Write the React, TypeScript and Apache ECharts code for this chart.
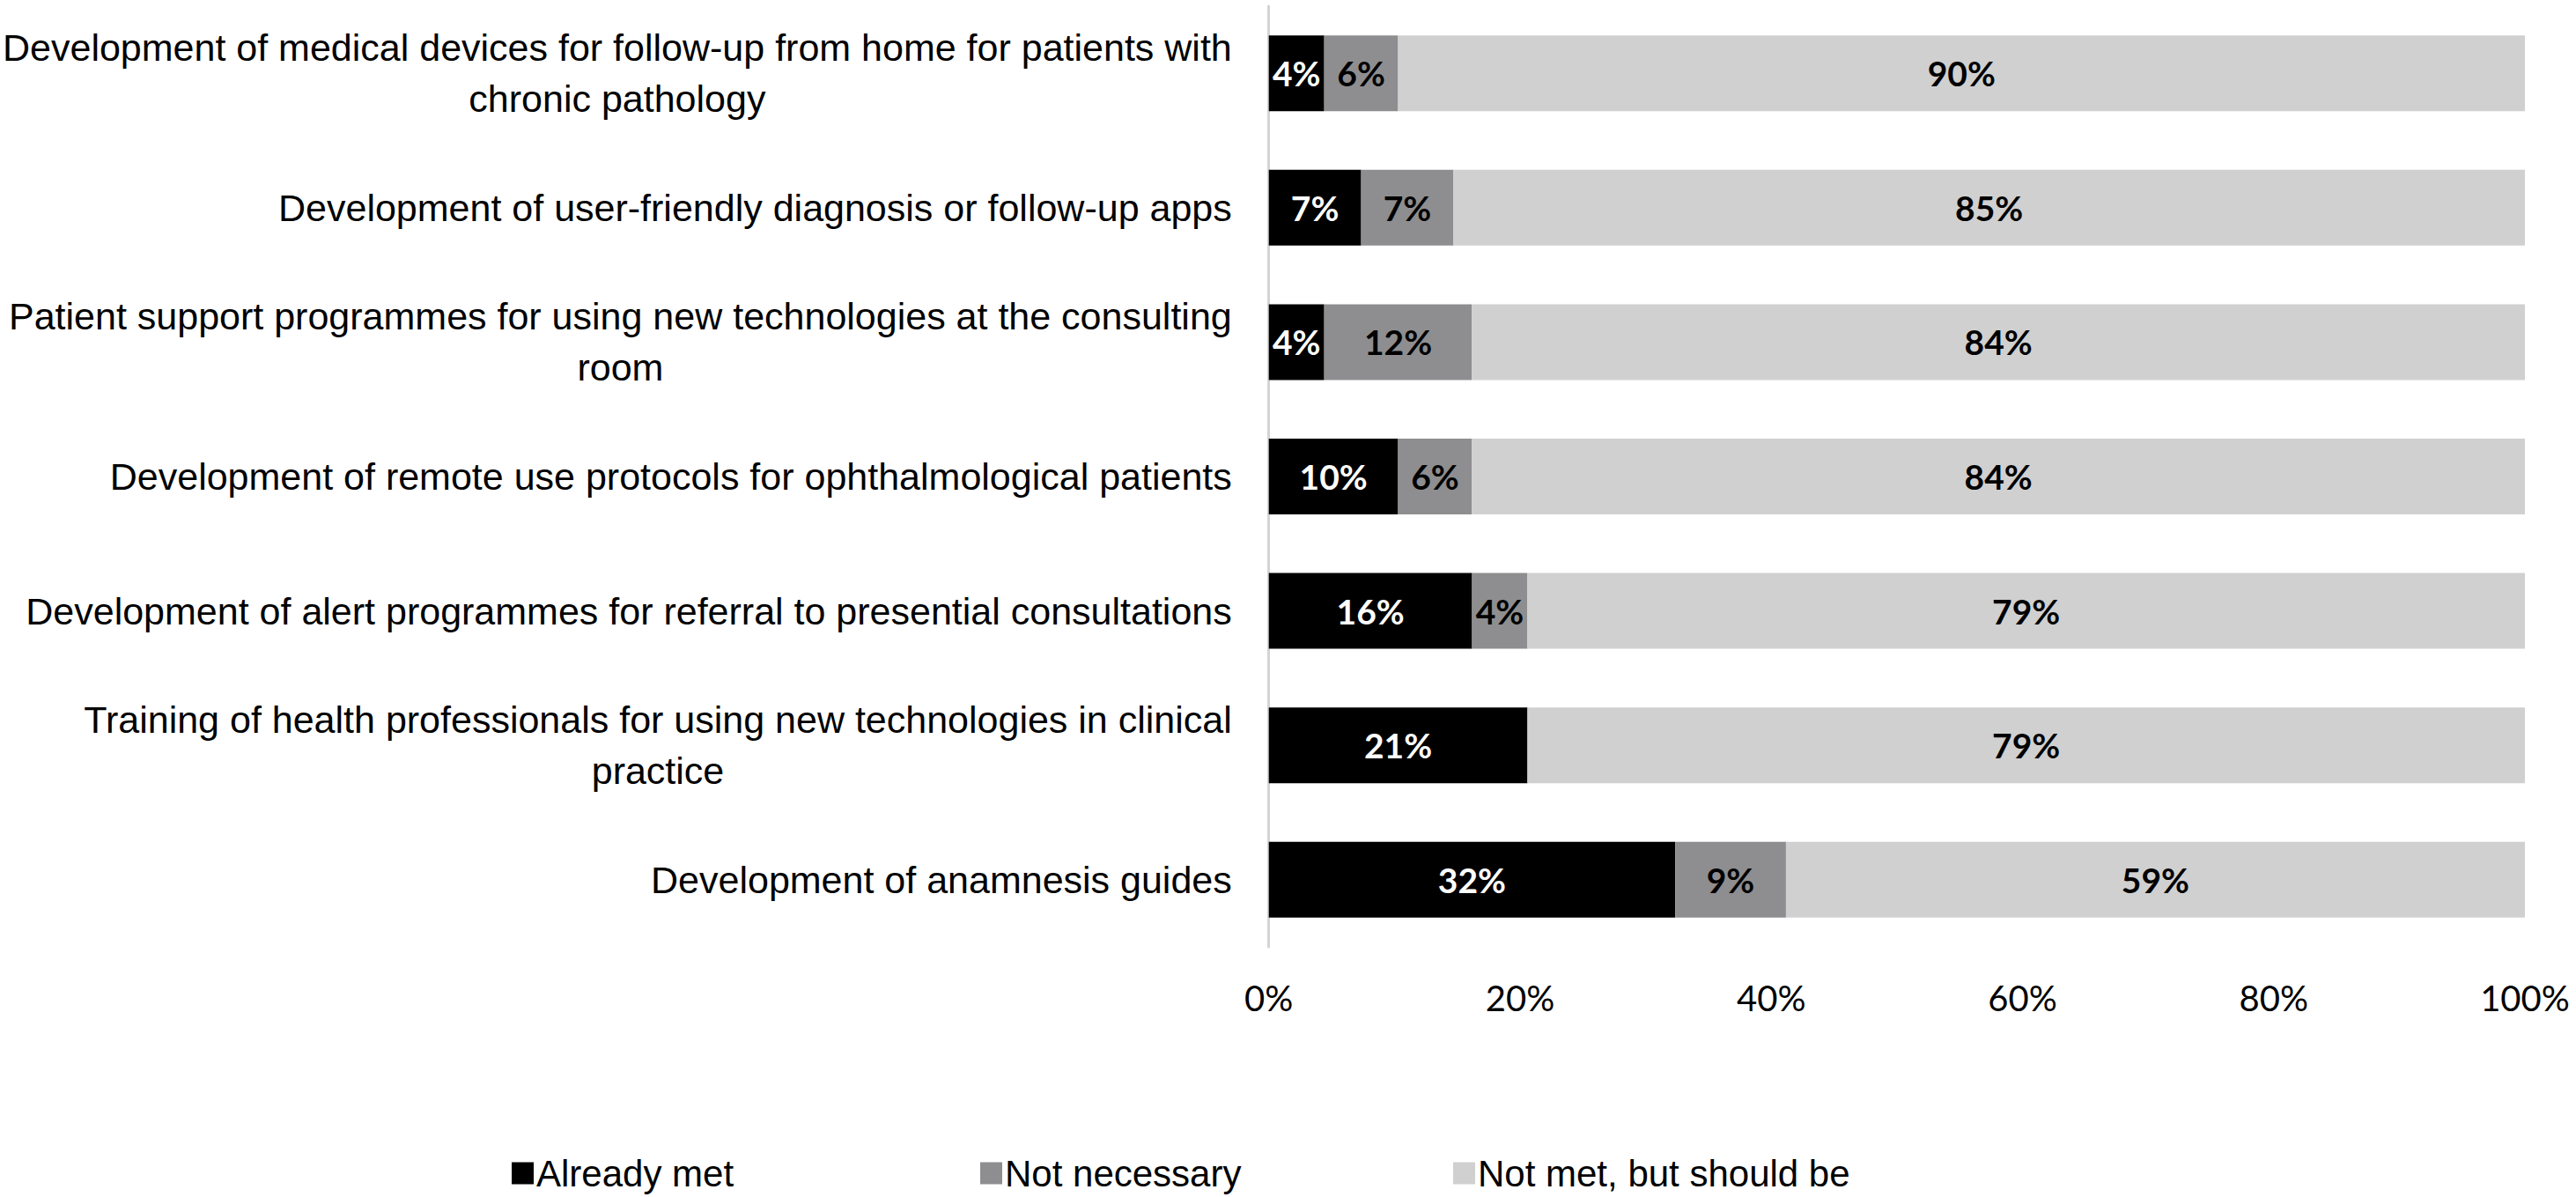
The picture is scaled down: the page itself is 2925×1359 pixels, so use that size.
import React, { useEffect, useRef } from "react";
import * as echarts from "echarts";

const categories: string[][] = [
  ["Development of medical devices for follow-up from home for patients with", "chronic pathology"],
  ["Development of user-friendly diagnosis or follow-up apps"],
  ["Patient support programmes for using new technologies at the consulting", "room"],
  ["Development of remote use protocols for ophthalmological patients"],
  ["Development of alert programmes for referral to presential consultations"],
  ["Training of health professionals for using new technologies in clinical", "practice"],
  ["Development of anamnesis guides"],
];

const alreadyMet = [4.41, 7.35, 4.41, 10.29, 16.18, 20.59, 32.35];
const notNecessary = [5.88, 7.35, 11.76, 5.88, 4.41, 0, 8.82];
const notMetShould = [89.71, 85.3, 83.83, 83.83, 79.41, 79.41, 58.83];

const seriesNames = ["Already met", "Not necessary", "Not met, but should be"];
const seriesColors = ["#000000", "#8e8e90", "#d0d0d0"];
const labelColors = ["#ffffff", "#000000", "#000000"];
const xTicks = { min: 0, max: 100, interval: 20 };
const legendLefts = [581, 1113, 1650];

export default function App() {
  const ref = useRef<HTMLDivElement>(null);
  useEffect(() => {
    if (!ref.current) return;
    const chart = echarts.init(ref.current, undefined, { renderer: "svg" });
    const catKeys = categories.map((c) => c.join("\n"));
    const data = [alreadyMet, notNecessary, notMetShould];
    chart.setOption({
      animation: false,
      backgroundColor: "#ffffff",
      grid: { left: 1437, right: 58, top: 7, bottom: 284, containLabel: false },
      xAxis: {
        type: "value",
        min: xTicks.min,
        max: xTicks.max,
        interval: xTicks.interval,
        axisLine: { show: false },
        axisTick: { show: false },
        splitLine: { show: false },
        axisLabel: {
          formatter: "{value}%",
          fontFamily: "Lato",
          fontSize: 40,
          color: "#000",
          margin: 38,
        },
      },
      yAxis: {
        type: "category",
        inverse: true,
        data: catKeys,
        axisLine: { show: true, lineStyle: { color: "#d4d4d4", width: 3 } },
        axisTick: { show: false },
        axisLabel: {
          margin: 42,
          color: "#000",
          fontFamily: "Liberation Sans",
          fontSize: 43,
          lineHeight: 58,
          formatter: (v: string) =>
            v
              .split("\n")
              .map((l) => "{c|" + l + "}")
              .join("\n"),
          rich: {
            c: {
              align: "center",
              fontFamily: "Liberation Sans",
              fontSize: 43,
              lineHeight: 58,
              color: "#000",
            },
          },
        },
      },
      legend: legendLefts.map((left, i) => ({
        data: [seriesNames[i]],
        left,
        top: 1311,
        padding: 0,
        itemWidth: 25,
        itemHeight: 25,
        icon: "rect",
        selectedMode: false,
        textStyle: { fontFamily: "Liberation Sans", fontSize: 42, color: "#000", padding: [0, 0, 0, -2] },
      })),
      series: seriesNames.map((name, i) => ({
        name,
        type: "bar",
        stack: "total",
        barWidth: 86,
        itemStyle: { color: seriesColors[i] },
        label: {
          show: true,
          position: "inside",
          color: labelColors[i],
          fontFamily: "Lato",
          fontWeight: "bold",
          fontSize: 39,
          formatter: (p: any) => (p.value > 0 ? Math.round(p.value) + "%" : ""),
        },
        data: data[i],
      })),
    });
    return () => chart.dispose();
  }, []);
  return (
    <div
      ref={ref}
      style={{ position: "fixed", left: 0, top: 0, width: 2925, height: 1359 }}
    />
  );
}
